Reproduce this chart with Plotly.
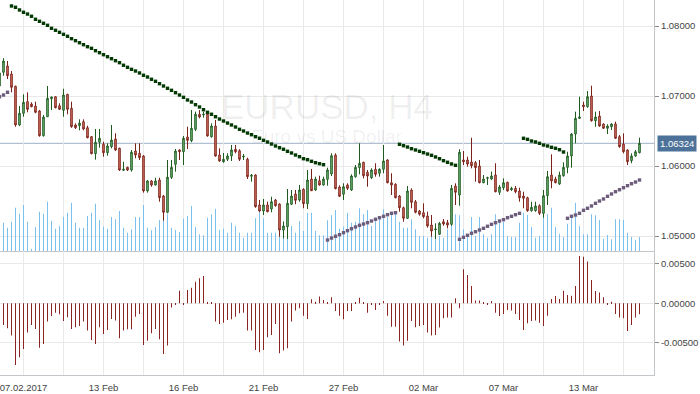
import plotly.graph_objects as go

# ---- price data (EURUSD H4), one entry per bar, first bar is partly cut off ----
open_p = [1.07143, 1.07339, 1.07429, 1.07314, 1.07139, 1.06586, 1.06753, 1.06919, 1.06886, 1.06857,
          1.06786, 1.06433, 1.06704, 1.06961, 1.06990, 1.06861, 1.06796, 1.07024, 1.06824, 1.06586,
          1.06576, 1.06633, 1.06547, 1.06419, 1.06176, 1.06339, 1.06310, 1.06190, 1.06276, 1.06386,
          1.06253, 1.05939, 1.05981, 1.05943, 1.06214, 1.06181, 1.06143, 1.05643, 1.05786, 1.05729,
          1.05800, 1.05571, 1.05339, 1.05839, 1.06024, 1.06229, 1.06204, 1.06414, 1.06361, 1.06524,
          1.06739, 1.06729, 1.06739, 1.06419, 1.06571, 1.06157, 1.06061, 1.06096, 1.06143, 1.06239,
          1.06219, 1.06129, 1.06096, 1.05853, 1.05871, 1.05443, 1.05357, 1.05443, 1.05386, 1.05514,
          1.05457, 1.05086, 1.05133, 1.05453, 1.05600, 1.05514, 1.05667, 1.05461, 1.05814, 1.05657,
          1.05790, 1.05729, 1.05810, 1.05886, 1.06157, 1.05700, 1.05596, 1.05729, 1.05657, 1.05847,
          1.05976, 1.06053, 1.05910, 1.05833, 1.05953, 1.05896, 1.05953, 1.06086, 1.05761, 1.05739,
          1.05571, 1.05404, 1.05253, 1.05657, 1.05490, 1.05357, 1.05333, 1.05286, 1.05157, 1.05090,
          1.05024, 1.05204, 1.05190, 1.05167, 1.05714, 1.05586, 1.06086, 1.06086, 1.06057, 1.06047,
          1.06000, 1.05761, 1.05824, 1.05814, 1.05871, 1.05624, 1.05690, 1.05767, 1.05661, 1.05681,
          1.05643, 1.05571, 1.05547, 1.05361, 1.05361, 1.05433, 1.05324, 1.05576, 1.05871, 1.05814,
          1.05743, 1.05861, 1.05981, 1.06143, 1.06457, 1.06681, 1.06871, 1.06847, 1.07000, 1.06647,
          1.06714, 1.06600, 1.06539, 1.06561, 1.06600, 1.06419, 1.06314, 1.06229, 1.06076, 1.06143,
          1.06190]
high_p = [1.07371, 1.07539, 1.07500, 1.07357, 1.07147, 1.06857, 1.07024, 1.07053, 1.06910, 1.06919,
          1.06800, 1.06729, 1.07143, 1.06990, 1.06995, 1.06896, 1.07104, 1.07030, 1.06919, 1.06610,
          1.06667, 1.06667, 1.06576, 1.06429, 1.06529, 1.06529, 1.06347, 1.06324, 1.06586, 1.06467,
          1.06261, 1.06061, 1.05990, 1.06229, 1.06324, 1.06324, 1.06157, 1.05800, 1.05800, 1.05833,
          1.05833, 1.05586, 1.06086, 1.06086, 1.06243, 1.06239, 1.06429, 1.06561, 1.06800, 1.06776,
          1.06800, 1.06776, 1.06753, 1.06610, 1.06657, 1.06253, 1.06186, 1.06181, 1.06300, 1.06300,
          1.06239, 1.06171, 1.06119, 1.05886, 1.05881, 1.05514, 1.05529, 1.05490, 1.05561, 1.05529,
          1.05467, 1.05204, 1.05671, 1.05657, 1.05657, 1.05729, 1.05681, 1.05943, 1.05957, 1.05847,
          1.05861, 1.05847, 1.05976, 1.06181, 1.06181, 1.05724, 1.05753, 1.05753, 1.05881, 1.06014,
          1.06324, 1.06061, 1.05943, 1.05967, 1.06039, 1.05967, 1.06300, 1.06096, 1.05896, 1.05753,
          1.05586, 1.05419, 1.05714, 1.05681, 1.05514, 1.05371, 1.05467, 1.05347, 1.05300, 1.05181,
          1.05200, 1.05243, 1.05229, 1.05729, 1.05753, 1.06239, 1.06214, 1.06133, 1.06404, 1.06071,
          1.06086, 1.05871, 1.05847, 1.05919, 1.06039, 1.05729, 1.05824, 1.05776, 1.05704, 1.05714,
          1.05690, 1.05633, 1.05561, 1.05490, 1.05490, 1.05453, 1.05657, 1.05929, 1.06167, 1.05847,
          1.05919, 1.06053, 1.06204, 1.06467, 1.06776, 1.06990, 1.06919, 1.07071, 1.07147, 1.06776,
          1.06786, 1.06610, 1.06596, 1.06610, 1.06633, 1.06443, 1.06467, 1.06239, 1.06181, 1.06229,
          1.06404]
low_p = [1.07114, 1.07290, 1.07243, 1.07053, 1.06561, 1.06571, 1.06704, 1.06767, 1.06839, 1.06753,
         1.06419, 1.06419, 1.06700, 1.06800, 1.06824, 1.06800, 1.06704, 1.06739, 1.06547, 1.06529,
         1.06510, 1.06510, 1.06396, 1.06167, 1.06090, 1.06261, 1.06133, 1.06147, 1.06253, 1.06214,
         1.05929, 1.05929, 1.05929, 1.05919, 1.06110, 1.06086, 1.05619, 1.05619, 1.05704, 1.05719,
         1.05490, 1.05219, 1.05324, 1.05814, 1.05919, 1.06086, 1.06014, 1.06243, 1.06339, 1.06500,
         1.06681, 1.06690, 1.06419, 1.06404, 1.06133, 1.06061, 1.06047, 1.06071, 1.06071, 1.06181,
         1.06071, 1.06086, 1.05814, 1.05776, 1.05404, 1.05343, 1.05300, 1.05339, 1.05339, 1.05419,
         1.04990, 1.04967, 1.04957, 1.05443, 1.05453, 1.05490, 1.05396, 1.05386, 1.05643, 1.05643,
         1.05719, 1.05719, 1.05719, 1.05857, 1.05667, 1.05557, 1.05514, 1.05657, 1.05643, 1.05833,
         1.05881, 1.05824, 1.05704, 1.05814, 1.05847, 1.05847, 1.05896, 1.05753, 1.05586, 1.05539,
         1.05347, 1.05204, 1.05243, 1.05396, 1.05324, 1.05290, 1.05253, 1.05119, 1.04990, 1.04957,
         1.05014, 1.05147, 1.05110, 1.05147, 1.05443, 1.05433, 1.06014, 1.05990, 1.05967, 1.05776,
         1.05753, 1.05753, 1.05729, 1.05800, 1.05624, 1.05586, 1.05657, 1.05633, 1.05643, 1.05610,
         1.05490, 1.05396, 1.05347, 1.05347, 1.05347, 1.05300, 1.05261, 1.05443, 1.05681, 1.05753,
         1.05729, 1.05847, 1.05896, 1.05976, 1.06324, 1.06671, 1.06786, 1.06833, 1.06633, 1.06561,
         1.06561, 1.06529, 1.06457, 1.06514, 1.06386, 1.06261, 1.06181, 1.06014, 1.06039, 1.06133,
         1.06181]
close_p = [1.07329, 1.07500, 1.07290, 1.07124, 1.06586, 1.06753, 1.06910, 1.06810, 1.06847, 1.06767,
           1.06433, 1.06700, 1.06967, 1.06986, 1.06833, 1.06810, 1.07014, 1.06810, 1.06561, 1.06547,
           1.06614, 1.06529, 1.06404, 1.06176, 1.06339, 1.06396, 1.06190, 1.06286, 1.06371, 1.06229,
           1.05943, 1.05953, 1.05943, 1.06196, 1.06157, 1.06119, 1.05643, 1.05786, 1.05729, 1.05786,
           1.05547, 1.05339, 1.05839, 1.05981, 1.06214, 1.06204, 1.06396, 1.06367, 1.06539, 1.06739,
           1.06700, 1.06739, 1.06429, 1.06571, 1.06143, 1.06071, 1.06096, 1.06143, 1.06229, 1.06204,
           1.06096, 1.06139, 1.05847, 1.05867, 1.05419, 1.05357, 1.05443, 1.05347, 1.05490, 1.05433,
           1.05086, 1.05143, 1.05467, 1.05571, 1.05510, 1.05657, 1.05461, 1.05800, 1.05647, 1.05814,
           1.05729, 1.05814, 1.05943, 1.06147, 1.05676, 1.05567, 1.05704, 1.05681, 1.05857, 1.05981,
           1.06039, 1.05861, 1.05857, 1.05943, 1.05881, 1.05953, 1.06071, 1.05761, 1.05729, 1.05547,
           1.05404, 1.05253, 1.05643, 1.05481, 1.05339, 1.05310, 1.05276, 1.05143, 1.05071, 1.05100,
           1.05181, 1.05171, 1.05157, 1.05681, 1.05624, 1.06196, 1.06061, 1.06029, 1.06004, 1.05976,
           1.05761, 1.05814, 1.05833, 1.05857, 1.05633, 1.05700, 1.05761, 1.05643, 1.05681, 1.05633,
           1.05547, 1.05539, 1.05361, 1.05410, 1.05429, 1.05324, 1.05576, 1.05847, 1.05786, 1.05761,
           1.05871, 1.05981, 1.06143, 1.06457, 1.06681, 1.06700, 1.06847, 1.06990, 1.06647, 1.06700,
           1.06571, 1.06539, 1.06571, 1.06600, 1.06396, 1.06276, 1.06204, 1.06061, 1.06143, 1.06204,
           1.06324]
volume = [1300, 1415, 1165, 1465, 2165, 1865, 2300, 1465, 100, 1200, 1965,
          1865, 2465, 1515, 1115, 1250, 1715, 1915, 2415, 1415, 1165,
          1165, 1750, 1915, 2365, 1550, 1215, 1115, 1700, 1585, 2000,
          1165, 915, 1085, 1700, 1700, 2300, 1165, 1035, 1200, 1550,
          2000, 1835, 1165, 1050, 950, 1615, 1750, 2250, 1200, 835,
          785, 1665, 1835, 2115, 1050, 1115, 915, 1415, 1250, 915,
          665, 915, 915, 1635, 1950, 1635, 915, 915, 915, 1415,
          1500, 835, 1250, 915, 1500, 1000, 1915, 1915, 1000, 785,
          785, 1535, 1785, 2050, 1115, 1215, 1915, 1415, 1465, 2135,
          1835, 2050, 1250, 1500, 1750, 2085, 1715, 1865, 1915, 1465,
          1165, 1165, 1585, 1085, 750, 750, 665, 750, 615, 750,
          665, 1085, 1835, 1835, 1785, 1085, 750, 1700, 750, 1700,
          835, 665, 835, 1835, 1500, 1450, 750, 700, 700, 1415,
          1915, 1800, 1200, 665, 750, 2050, 1835, 2165, 1200, 865,
          700, 1365, 1750, 2415, 1250, 835, 835, 1835, 1785, 1550,
          615, 800, 585, 1585, 1585, 1550, 915, 700, 550, 700]
# Parabolic SAR, one value per bar
psar = [1.06990, 1.07014, 1.07053,
        1.08286, 1.08267, 1.08229, 1.08196, 1.08171, 1.08139, 1.08096, 1.08067, 1.08039, 1.08010,
        1.07967, 1.07939, 1.07910, 1.07881, 1.07853, 1.07819, 1.07790, 1.07761, 1.07733, 1.07704,
        1.07681, 1.07647, 1.07619, 1.07590, 1.07561, 1.07533, 1.07504, 1.07476, 1.07439, 1.07410,
        1.07381, 1.07357, 1.07329, 1.07296, 1.07271, 1.07239, 1.07210, 1.07176, 1.07143, 1.07110,
        1.07081, 1.07047, 1.07014, 1.06981, 1.06943, 1.06914, 1.06876, 1.06843, 1.06804, 1.06767,
        1.06739, 1.06704, 1.06671, 1.06643, 1.06614, 1.06586, 1.06557, 1.06524, 1.06500, 1.06471,
        1.06447, 1.06419, 1.06396, 1.06367, 1.06343, 1.06314, 1.06286, 1.06261, 1.06239, 1.06210,
        1.06186, 1.06157, 1.06133, 1.06104, 1.06090, 1.06067, 1.06047, 1.06033, 1.06019,
        1.04943, 1.04971, 1.04996, 1.05019, 1.05047, 1.05076, 1.05104, 1.05129, 1.05153, 1.05171,
        1.05190, 1.05214, 1.05239, 1.05261, 1.05281, 1.05304, 1.05324, 1.05333,
        1.06310, 1.06290, 1.06271, 1.06247, 1.06229, 1.06210, 1.06190, 1.06171, 1.06153, 1.06129,
        1.06104, 1.06076, 1.06053, 1.06029, 1.06010,
        1.04953, 1.04981, 1.05010, 1.05039, 1.05061, 1.05086, 1.05110, 1.05139, 1.05167, 1.05190,
        1.05214, 1.05233, 1.05261, 1.05281, 1.05304, 1.05324,
        1.06396, 1.06381, 1.06357, 1.06343, 1.06324, 1.06300, 1.06286, 1.06267, 1.06253, 1.06233,
        1.06200,
        1.05253, 1.05281, 1.05300, 1.05324, 1.05367, 1.05396, 1.05429, 1.05467, 1.05500, 1.05529,
        1.05567, 1.05600, 1.05633, 1.05661, 1.05690, 1.05719, 1.05747, 1.05771, 1.05800]
# oscillator histogram (lower panel)
osc = [-0.00200,
       -0.00275, -0.00318, -0.00411, -0.00784, -0.00686, -0.00581, -0.00373, -0.00275, -0.00326, -0.00564,
       -0.00517, -0.00233, -0.00161, -0.00119, -0.00140, -0.00225, -0.00178, -0.00326, -0.00305, -0.00288,
       -0.00233, -0.00347, -0.00466, -0.00517, -0.00305, -0.00390, -0.00339, -0.00199, -0.00220, -0.00445,
       -0.00347, -0.00331, -0.00331, -0.00170, -0.00136, -0.00530, -0.00475, -0.00381, -0.00326, -0.00458,
       -0.00644, -0.00538, -0.00055, -0.00013, 0.00161, -0.00013, 0.00170, 0.00199, 0.00275, 0.00318,
       0.00347, 0.00013, 0.00013, -0.00233, -0.00263, -0.00246, -0.00212, -0.00203, -0.00170, -0.00127,
       -0.00119, -0.00347, -0.00347, -0.00593, -0.00623, -0.00593, -0.00432, -0.00403, -0.00263, -0.00636,
       -0.00602, -0.00572, -0.00233, -0.00093, -0.00064, -0.00157, -0.00199, 0.00051, 0.00021, 0.00085,
       0.00042, 0.00013, 0.00076, -0.00097, -0.00157, -0.00203, -0.00097, -0.00097, 0.00013, 0.00072,
       0.00013, -0.00119, -0.00021, -0.00085, -0.00021, 0.00030, -0.00157, -0.00297, -0.00297, -0.00487,
       -0.00538, -0.00475, -0.00225, -0.00305, -0.00288, -0.00275, -0.00373, -0.00411, -0.00403, -0.00309,
       -0.00191, -0.00182, -0.00182, 0.00064, -0.00064, 0.00432, 0.00360, 0.00220, 0.00034, 0.00034,
       0.00005, -0.00021, 0.00030, -0.00119, -0.00161, -0.00136, -0.00085, -0.00093, -0.00136, -0.00212,
       -0.00339, -0.00254, -0.00225, -0.00220, -0.00246, -0.00288, -0.00157, 0.00055, 0.00093, 0.00055,
       0.00161, 0.00106, 0.00097, 0.00220, 0.00602, 0.00593, 0.00530, 0.00297, 0.00157, 0.00136,
       0.00076, -0.00013, 0.00021, -0.00136, -0.00182, -0.00191, -0.00352, -0.00275, -0.00182, -0.00140]

date_labels = ["07.02.2017", "13 Feb", "16 Feb", "21 Feb", "27 Feb", "02 Mar", "07 Mar", "13 Mar"]
price_ticks = [1.05, 1.06, 1.07, 1.08]
osc_ticks = [-0.005, 0.0, 0.005]
symbol_title = "EURUSD, H4"
symbol_desc = "Euro vs US Dollar"

# ---- derived ----
first_bar = -1
bars = list(range(first_bar, first_bar + len(close_p)))
grid_bars = [b for b in bars if b % 10 == 5]
label_bars = [b for b in bars if b % 20 == 5][:len(date_labels)]
lab_map = dict(zip(label_bars, date_labels))
grid_text = [lab_map.get(b, "") for b in grid_bars]
sar_colors = ["#033a03" if s > c else "#6d5c7c" for s, c in zip(psar, close_p)]

x_range = [-0.875, 162.625]
main_range = [1.047857, 1.083714]
osc_range = [-0.00912, 0.00665]
split = 124 / 375

FONT = "Liberation Sans, Arial, sans-serif"
GRID = "#e9e9e9"
BORDER = "#c2c6ca"

fig = go.Figure()

fig.add_trace(go.Bar(x=bars, y=volume, xaxis="x", yaxis="y", width=0.25,
                     marker=dict(color="#7cc0ee", line=dict(width=0)), showlegend=False,
                     hoverinfo="skip"))

fig.add_trace(go.Candlestick(
    x=bars, open=open_p, high=high_p, low=low_p, close=close_p,
    xaxis="x", yaxis="y3", whiskerwidth=0,
    increasing=dict(line=dict(color="#1f5a1f", width=1), fillcolor="#7fcc8a"),
    decreasing=dict(line=dict(color="#7a2219", width=1), fillcolor="#eb8474"),
    showlegend=False))

fig.add_trace(go.Scatter(x=bars, y=psar, mode="markers", xaxis="x", yaxis="y3",
                         marker=dict(symbol="square", size=3.4, color=sar_colors, line=dict(width=0)),
                         showlegend=False, hoverinfo="skip"))

fig.add_trace(go.Bar(x=bars, y=osc, xaxis="x2", yaxis="y2", width=0.25,
                     marker=dict(color="#8c2424", line=dict(width=0)), showlegend=False))

tickfont = dict(family=FONT, size=9.5, color="#444444")

fig.update_layout(
    width=700, height=394,
    margin=dict(l=0, r=46, t=0, b=19),
    paper_bgcolor="white", plot_bgcolor="white",
    font=dict(family=FONT),
    boxgap=0.45,
    showlegend=False,
    xaxis=dict(domain=[0, 1], anchor="y", range=x_range, tickvals=grid_bars,
               showticklabels=False, ticks="", showgrid=True, gridcolor=GRID, gridwidth=1,
               showline=True, linecolor=BORDER, linewidth=1, zeroline=False,
               rangeslider=dict(visible=False)),
    yaxis=dict(domain=[split, 1], anchor="x", range=[0, 12550], visible=False,
               showgrid=False, zeroline=False),
    yaxis3=dict(overlaying="y", anchor="x", side="right", range=main_range,
                tickvals=price_ticks, ticktext=[f"{v:.5f}" for v in price_ticks],
                ticks="outside", ticklen=4, tickcolor="#8a8a8a", tickfont=tickfont,
                showgrid=True, gridcolor=GRID, gridwidth=1, zeroline=False,
                showline=True, linecolor=BORDER, linewidth=1),
    xaxis2=dict(domain=[0, 1], anchor="y2", matches="x", range=x_range, tickvals=grid_bars,
                ticktext=grid_text, ticks="outside", ticklen=4, tickcolor="rgba(0,0,0,0)",
                tickfont=tickfont, showgrid=True, gridcolor=GRID,
                ticklabeloverflow="allow",
                gridwidth=1, showline=True, linecolor=BORDER, linewidth=1, zeroline=False),
    yaxis2=dict(domain=[0, split], anchor="x2", side="right", range=osc_range,
                tickvals=osc_ticks, ticktext=[f"{v:.5f}" for v in osc_ticks],
                ticks="outside", ticklen=4, tickcolor="#8a8a8a", tickfont=tickfont,
                showgrid=True, gridcolor=GRID, gridwidth=1, zeroline=False,
                showline=True, linecolor=BORDER, linewidth=1),
)

last = close_p[-1]
fig.add_shape(type="line", xref="paper", x0=0, x1=1, yref="y3", y0=last, y1=last,
              line=dict(color="#9fb2c6", width=1), layer="below")

fig.add_annotation(xref="paper", yref="paper", x=0.5, y=0.715, text=symbol_title,
                   showarrow=False, xanchor="center", yanchor="middle",
                   font=dict(family=FONT, size=35, color="rgba(0,0,0,0.065)"))
fig.add_annotation(xref="paper", yref="paper", x=0.5, y=0.635, text=symbol_desc,
                   showarrow=False, xanchor="center", yanchor="middle",
                   font=dict(family=FONT, size=19, color="rgba(0,0,0,0.065)"))
fig.add_annotation(xref="paper", x=1, xanchor="left", xshift=3, yref="y3", y=last,
                   yanchor="middle", text=f"{last:.5f}", showarrow=False,
                   bgcolor="#4d7299", borderpad=2,
                   font=dict(family=FONT, size=9.5, color="white"))

fig.write_html("out.html", config={"displayModeBar": False},
               post_script="document.body.style.margin='0';document.body.style.padding='0';")
